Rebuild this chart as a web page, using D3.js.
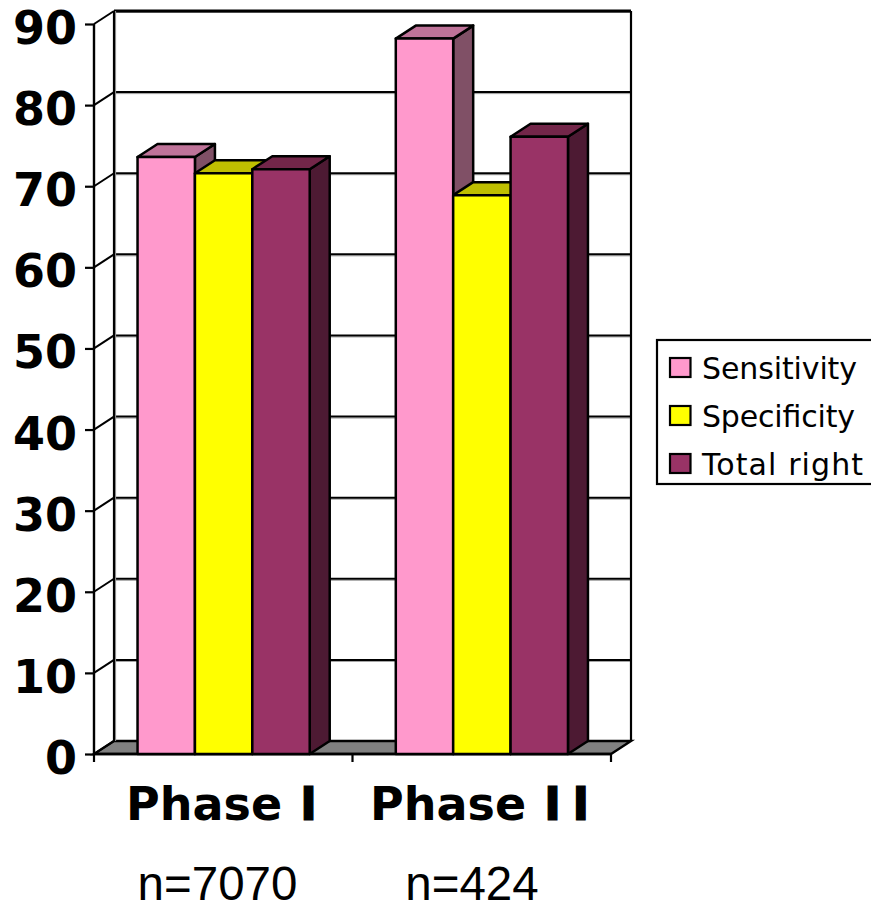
<!DOCTYPE html>
<html><head><meta charset="utf-8">
<style>html,body{margin:0;padding:0;background:#fff;overflow:hidden}svg{display:block}</style>
<script src="https://cdnjs.cloudflare.com/ajax/libs/d3/7.8.5/d3.min.js"></script>
</head><body><svg id="c" width="871" height="904"></svg>
<script>
const categories = ["Phase I", "Phase II"];
const sampleSizes = ["n=7070", "n=424"];
const seriesNames = ["Sensitivity", "Specificity", "Total right"];
const sensitivity = [73.6, 88.2];
const specificity = [71.6, 68.9];
const totalRight = [72.1, 76.1];
const yTicks = [0,10,20,30,40,50,60,70,80,90];
const seriesValues = [sensitivity, specificity, totalRight];
const front = ["#ff99cc", "#ffff00", "#993366"];
const topc = ["#bf7399", "#bfbf00", "#732649"];
const side = ["#805066", "#808000", "#4d1a33"];

const svg = d3.select("#c");
const dx = 20, dy = -13;
const y = d3.scaleLinear().domain([0,90]).range([754,24]);
const x0 = d3.scaleBand().domain(categories).range([94.5,611]);
const x1 = d3.scaleBand().domain(seriesNames).range([0,x0.bandwidth()]).paddingOuter(0.75).paddingInner(0);
const pts = a => a.map(p=>p.join(",")).join(" ");
const L = 94, R = 611, B = y(0), T = y(90);

// floor
svg.append("polygon").attr("points",pts([[L,B],[L+dx,B+dy],[R+dx,B+dy],[R,B]])).attr("fill","#808080").attr("stroke","#000").attr("stroke-width",2.4);
// walls grid
const grid = svg.append("g");
yTicks.forEach(t=>{
  if(t>0){
    grid.append("line").attr("x1",L+dx).attr("x2",R+dx).attr("y1",y(t)+dy+1.5).attr("y2",y(t)+dy+1.5).attr("stroke","#999").attr("stroke-width",1);
    grid.append("line").attr("x1",L+dx).attr("x2",R+dx).attr("y1",y(t)+dy).attr("y2",y(t)+dy).attr("stroke","#000").attr("stroke-width",t===90?2.8:2);
  }
  grid.append("line").attr("x1",L).attr("x2",L+dx).attr("y1",y(t)).attr("y2",y(t)+dy).attr("stroke","#000").attr("stroke-width",2);
});
grid.append("line").attr("x1",L+dx+1.5).attr("x2",L+dx+1.5).attr("y1",T+dy).attr("y2",B+dy).attr("stroke","#999").attr("stroke-width",1.2);
grid.append("line").attr("x1",L+dx).attr("x2",L+dx).attr("y1",T+dy).attr("y2",B+dy).attr("stroke","#000").attr("stroke-width",2.2);
grid.append("line").attr("x1",R+dx).attr("x2",R+dx).attr("y1",T+dy).attr("y2",B+dy).attr("stroke","#000").attr("stroke-width",2.2);

// axes
const ay = d3.axisLeft(y).tickValues(yTicks).tickSize(9).tickFormat(d3.format("d"));
const gy = svg.append("g").attr("transform",`translate(${L},0)`).call(ay);
gy.select(".domain").attr("stroke-width",2.4).attr("d",`M0,${T}V${B}`);
gy.selectAll(".tick line").attr("stroke-width",2.2);
gy.selectAll("text").attr("x",-17).attr("font-family","'DejaVu Sans'").attr("font-weight","bold").attr("font-size",46).attr("fill","#000").attr("dy",19.5);
const ax = d3.axisBottom(x0).tickValues([]).tickSize(0);
const gx = svg.append("g").attr("transform",`translate(0,${B})`).call(ax);
gx.select(".domain").attr("stroke-width",2.4).attr("d",`M${L},0H${R}`);
[L,(L+R)/2,R].forEach(v=>gx.append("line").attr("x1",v).attr("x2",v).attr("y1",0).attr("y2",8).attr("stroke","#000").attr("stroke-width",2.2));

// bars
const bars = svg.append("g").attr("stroke","#000").attr("stroke-width",2.5).attr("stroke-linejoin","round");
const order = [];
categories.forEach((c,ci)=>seriesNames.forEach((s,si)=>order.push({c,ci,s,si,v:seriesValues[si][ci]})));
order.forEach(d=>{
  const a = x0(d.c)+x1(d.s), b = a+x1.bandwidth(), t = y(d.v);
  bars.append("polygon").attr("points",pts([[b,B],[b+dx,B+dy],[b+dx,t+dy],[b,t]])).attr("fill",side[d.si]);
  bars.append("polygon").attr("points",pts([[a,t],[a+dx,t+dy],[b+dx,t+dy],[b,t]])).attr("fill",topc[d.si]);
  bars.append("rect").attr("x",a).attr("y",t).attr("width",b-a).attr("height",B-t).attr("fill",front[d.si]);
});

// labels
svg.append("g").selectAll("text").data(categories).join("text")
  .attr("x",(d,i)=>[126,370][i]).attr("y",820)
  .attr("font-family","'DejaVu Sans'").attr("font-weight","bold").attr("font-size",46)
  .each(function(d){
    const parts = d.split(" ");
    const t = d3.select(this);
    t.append("tspan").text(parts[0]+" ");
    t.append("tspan").attr("dx",2).attr("letter-spacing",11).attr("stroke","#000").attr("stroke-width",1.2).text(parts[1]);
  });
svg.append("g").selectAll("text").data(sampleSizes).join("text")
  .attr("x",(d,i)=>[217.5,472][i]).attr("y",900).attr("text-anchor","middle")
  .attr("font-family","'Liberation Sans'").attr("font-size",47.5).text(d=>d);

// legend
const lg = svg.append("g");
lg.append("rect").attr("x",657).attr("y",340).attr("width",230).attr("height",144).attr("fill","#fff").attr("stroke","#000").attr("stroke-width",2.2);
const ly = d3.scalePoint().domain(seriesNames).range([367.5,463.5]);
const legendTextWidth = [155,153,161];
seriesNames.forEach((s,i)=>{
  lg.append("rect").attr("x",670).attr("y",ly(s)-9.5).attr("width",20.5).attr("height",19).attr("fill",front[i]).attr("stroke","#000").attr("stroke-width",2.2);
  lg.append("text").attr("x",702).attr("y",ly(s)+11).attr("font-family","'DejaVu Sans'").attr("font-size",30)
    .attr("textLength",legendTextWidth[i]).attr("lengthAdjust","spacing").text(s);
});
</script></body></html>
